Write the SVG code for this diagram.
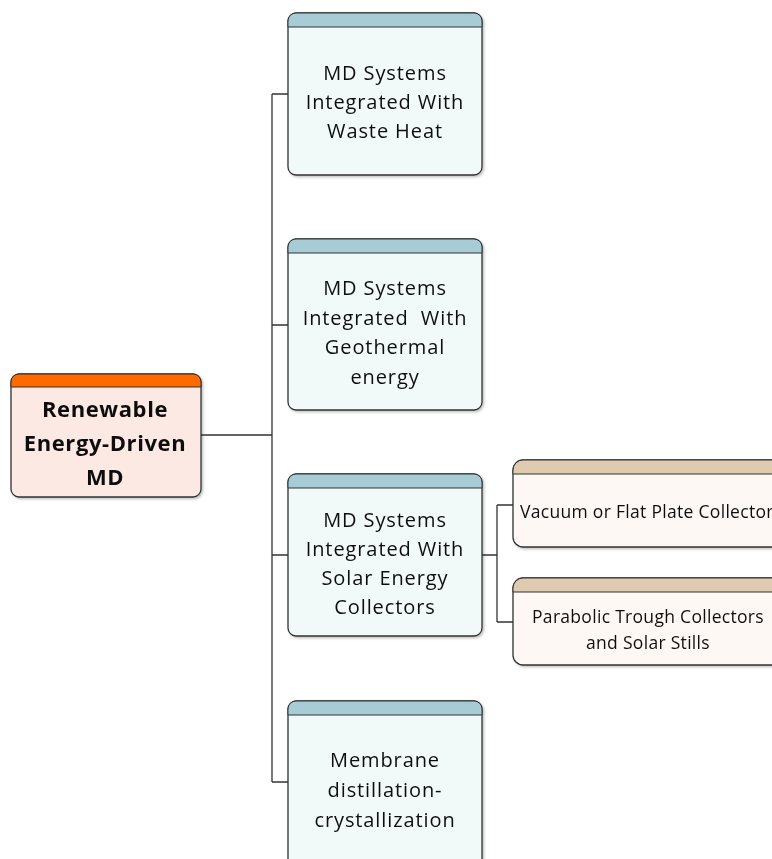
<svg xmlns="http://www.w3.org/2000/svg" width="772" height="859" viewBox="0 0 772 859">
<defs>
<filter id="sh" x="-10%" y="-10%" width="130%" height="130%">
<feDropShadow dx="1.5" dy="1.5" stdDeviation="1" flood-color="#000" flood-opacity="0.25"/>
</filter>
</defs>
<style>
text{font-family:"Open Sans","Liberation Sans",sans-serif;text-anchor:middle;fill:#111}
.t{font-size:20px;letter-spacing:0.9px}
.r{font-size:22px;font-weight:bold;letter-spacing:0.6px}
.s{font-size:17.5px;letter-spacing:0.3px}
.box{stroke:#333;stroke-width:1.3}
.hd{stroke:#333;stroke-width:1}
.conn{fill:none;stroke:#333;stroke-width:1.3}
</style>
<g id="connectors">
<path class="conn" d="M201 435H272M272 94V782M272 94H288M272 325H288M272 555H288M272 782H288"/>
<path class="conn" d="M482 555H497M497 505V622M497 505H513M497 622H513"/>
</g>
<g id="root" filter="url(#sh)">
<rect class="box" x="11" y="374" width="190" height="123" rx="8" fill="#fde9e4"/>
<path class="hd" d="M11 387V382a8 8 0 0 1 8-8H193a8 8 0 0 1 8 8V387Z" fill="#ff6a00"/>
<text class="r" x="105" y="417">Renewable</text>
<text class="r" x="105" y="451">Energy-Driven</text>
<text class="r" x="105" y="485">MD</text>
</g>
<g id="n1" filter="url(#sh)">
<rect class="box" x="288" y="13" width="194" height="162" rx="8" fill="#f1f9f9"/>
<path class="hd" d="M288 27V21a8 8 0 0 1 8-8H474a8 8 0 0 1 8 8V27Z" fill="#a8ccd5"/>
<text class="t" x="385" y="80">MD Systems</text>
<text class="t" x="385" y="109">Integrated With</text>
<text class="t" x="385" y="138">Waste Heat</text>
</g>
<g id="n2" filter="url(#sh)">
<rect class="box" x="288" y="239" width="194" height="171" rx="8" fill="#f1f9f9"/>
<path class="hd" d="M288 253V247a8 8 0 0 1 8-8H474a8 8 0 0 1 8 8V253Z" fill="#a8ccd5"/>
<text class="t" x="385" y="295">MD Systems</text>
<text class="t" x="385" y="325" xml:space="preserve">Integrated  With</text>
<text class="t" x="385" y="354">Geothermal</text>
<text class="t" x="385" y="384">energy</text>
</g>
<g id="n3" filter="url(#sh)">
<rect class="box" x="288" y="474" width="194" height="162" rx="8" fill="#f1f9f9"/>
<path class="hd" d="M288 488V482a8 8 0 0 1 8-8H474a8 8 0 0 1 8 8V488Z" fill="#a8ccd5"/>
<text class="t" x="385" y="527">MD Systems</text>
<text class="t" x="385" y="556">Integrated With</text>
<text class="t" x="385" y="585">Solar Energy</text>
<text class="t" x="385" y="614">Collectors</text>
</g>
<g id="n4" filter="url(#sh)">
<rect class="box" x="288" y="701" width="194" height="170" rx="8" fill="#f1f9f9"/>
<path class="hd" d="M288 715V709a8 8 0 0 1 8-8H474a8 8 0 0 1 8 8V715Z" fill="#a8ccd5"/>
<text class="t" x="385" y="767">Membrane</text>
<text class="t" x="385" y="797">distillation-</text>
<text class="t" x="385" y="827">crystallization</text>
</g>
<g id="s1" filter="url(#sh)">
<rect class="box" x="513" y="460" width="290" height="87" rx="10" fill="#fdf8f3"/>
<path class="hd" d="M513 474V470a10 10 0 0 1 10-10H803V474Z" fill="#dfcbb0"/>
<text class="s" x="520" y="518" style="text-anchor:start">Vacuum or Flat Plate Collectors</text>
</g>
<g id="s2" filter="url(#sh)">
<rect class="box" x="513" y="578" width="290" height="87" rx="10" fill="#fdf8f3"/>
<path class="hd" d="M513 592V588a10 10 0 0 1 10-10H803V592Z" fill="#dfcbb0"/>
<text class="s" x="648" y="623">Parabolic Trough Collectors</text>
<text class="s" x="648" y="649">and Solar Stills</text>
</g>
</svg>
